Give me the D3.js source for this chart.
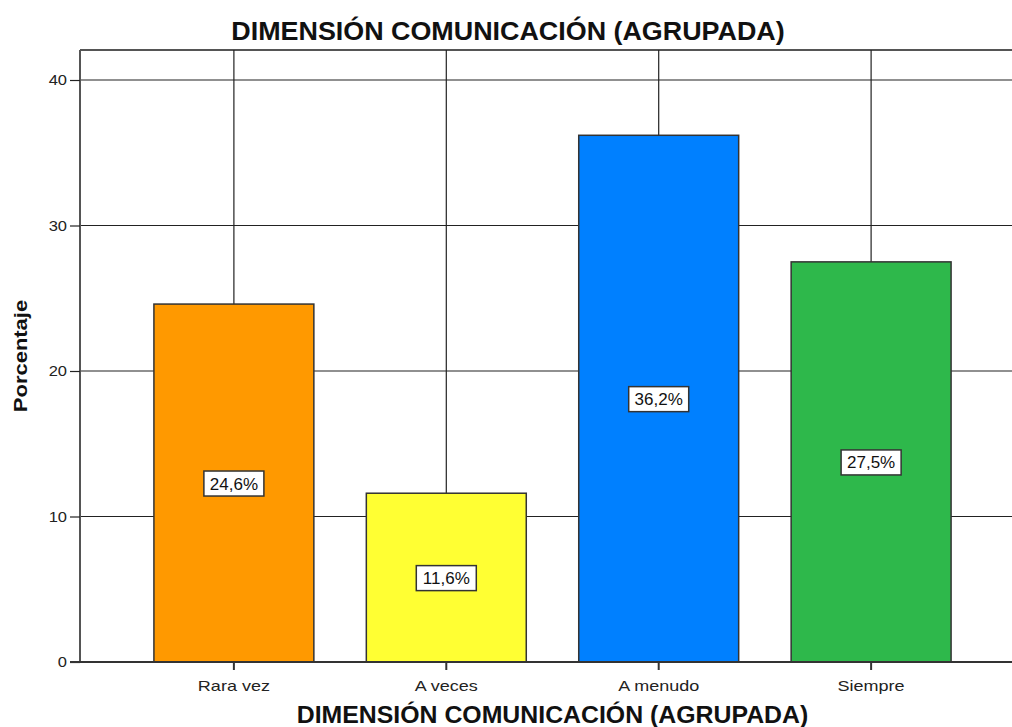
<!DOCTYPE html>
<html>
<head>
	<meta charset="UTF-8">
	<title>Dimensión comunicación (agrupada)</title>
	<script src="https://cdnjs.cloudflare.com/ajax/libs/d3/7.8.5/d3.min.js"></script>
	<style>
		body { margin: 0; background: #fff; }
		svg { display: block; font-family: "Liberation Sans", Arial, sans-serif; }
	</style>
</head>
<body>
	<script>
		// data
		var categories = ["Rara vez", "A veces", "A menudo", "Siempre"];
		var percentages = [24.6, 11.6, 36.2, 27.5];
		var barColors = ["#ff9900", "#ffff33", "#0080ff", "#2eb84b"];
		var yTicks = [0, 10, 20, 30, 40];
		var chartTitle = "DIMENSIÓN COMUNICACIÓN (AGRUPADA)";
		var xTitle = "DIMENSIÓN COMUNICACIÓN (AGRUPADA)";
		var yTitle = "Porcentaje";

		var W = 1012, H = 727;
		var plot = {left: 80, right: 1025, top: 50, bottom: 662};
		var stretch = 1.2; // the original text is drawn a bit wider than Arial

		// widen a text selection horizontally, keeping its anchor
		function widen(sel, k) {
			sel.each(function() {
				var len = this.getComputedTextLength();
				d3.select(this)
					.attr("textLength", len * k)
					.attr("lengthAdjust", "spacingAndGlyphs");
			});
		}

		var x = d3.scaleBand()
			.domain(categories)
			.range([plot.left, plot.right])
			.paddingInner(0.247)
			.paddingOuter(0.348);

		var y = d3.scaleLinear()
			.domain([0, 40])
			.range([plot.bottom, plot.bottom - 4 * 145.5]);

		var data = categories.map(function(c, i) {
			return {cat: c, value: percentages[i], color: barColors[i]};
		});

		var svg = d3.select("body").append("svg")
			.attr("width", W)
			.attr("height", H);

		// frame top
		svg.append("line")
			.attr("x1", plot.left).attr("x2", plot.right)
			.attr("y1", plot.top).attr("y2", plot.top)
			.attr("stroke", "#555").attr("stroke-width", 2);

		// horizontal grid
		svg.append("g").selectAll("line")
			.data(yTicks.filter(function(t) { return t > 0; }))
			.enter().append("line")
			.attr("x1", plot.left).attr("x2", plot.right)
			.attr("y1", function(d) { return y(d); })
			.attr("y2", function(d) { return y(d); })
			.attr("stroke", "#222").attr("stroke-width", 1.2);

		// vertical grid at category centres
		svg.append("g").selectAll("line")
			.data(categories)
			.enter().append("line")
			.attr("x1", function(d) { return x(d) + x.bandwidth() / 2; })
			.attr("x2", function(d) { return x(d) + x.bandwidth() / 2; })
			.attr("y1", plot.top).attr("y2", plot.bottom)
			.attr("stroke", "#222").attr("stroke-width", 1.2);

		// bars
		svg.selectAll(".bar")
			.data(data)
			.enter().append("rect")
			.attr("class", "bar")
			.attr("x", function(d) { return x(d.cat); })
			.attr("width", x.bandwidth())
			.attr("y", function(d) { return y(d.value); })
			.attr("height", function(d) { return plot.bottom - y(d.value); })
			.attr("fill", function(d) { return d.color; })
			.attr("stroke", "#333").attr("stroke-width", 1.5);

		// y axis
		var yAxis = svg.append("g")
			.attr("transform", "translate(" + plot.left + ",0)")
			.call(d3.axisLeft(y).tickValues(yTicks).tickSize(10).tickPadding(3));
		yAxis.select(".domain")
			.attr("d", "M0," + plot.top + "V" + plot.bottom)
			.attr("stroke", "#555").attr("stroke-width", 2);
		yAxis.selectAll(".tick line").attr("stroke", "#222").attr("stroke-width", 1.2);
		yAxis.selectAll("text")
			.attr("font-size", 15).attr("fill", "#222")
			.attr("font-family", "\"Liberation Sans\", Arial, sans-serif")
			.call(widen, 1.1);

		// x axis
		var xAxis = svg.append("g")
			.attr("transform", "translate(0," + plot.bottom + ")")
			.call(d3.axisBottom(x).tickSize(8).tickPadding(10));
		xAxis.select(".domain")
			.attr("d", "M" + (plot.left - 10) + ",0H" + plot.right)
			.attr("stroke", "#333").attr("stroke-width", 2);
		xAxis.selectAll(".tick line").attr("stroke", "#333").attr("stroke-width", 2);
		xAxis.selectAll("text")
			.attr("font-size", 15).attr("fill", "#222")
			.attr("font-family", "\"Liberation Sans\", Arial, sans-serif")
			.call(widen, stretch);

		// value labels
		var labels = svg.append("g").selectAll("g")
			.data(data)
			.enter().append("g")
			.attr("transform", function(d) {
				return "translate(" + (x(d.cat) + x.bandwidth() / 2) + "," + y(d.value / 2) + ")";
			});
		labels.append("rect")
			.attr("x", -30).attr("y", -12)
			.attr("width", 60).attr("height", 25)
			.attr("fill", "#fff").attr("stroke", "#333").attr("stroke-width", 1.5);
		labels.append("text")
			.attr("text-anchor", "middle")
			.attr("dy", "0.38em")
			.attr("font-size", 17).attr("fill", "#111")
			.text(function(d) { return d3.format(".1f")(d.value).replace(".", ",") + "%"; });

		// titles
		svg.append("text")
			.attr("x", 508).attr("y", 40)
			.attr("text-anchor", "middle")
			.attr("font-size", 25).attr("font-weight", "bold").attr("fill", "#111")
			.text(chartTitle)
			.call(widen, 1.075);

		svg.append("text")
			.attr("x", (plot.left + plot.right) / 2).attr("y", 723)
			.attr("text-anchor", "middle")
			.attr("font-size", 23).attr("font-weight", "bold").attr("fill", "#111")
			.text(xTitle)
			.call(widen, 1.08);

		svg.append("text")
			.attr("transform", "translate(27,356) rotate(-90)")
			.attr("text-anchor", "middle")
			.attr("font-size", 18).attr("font-weight", "bold").attr("fill", "#111")
			.text(yTitle)
			.call(widen, 1.22);
	</script>
</body>
</html>
